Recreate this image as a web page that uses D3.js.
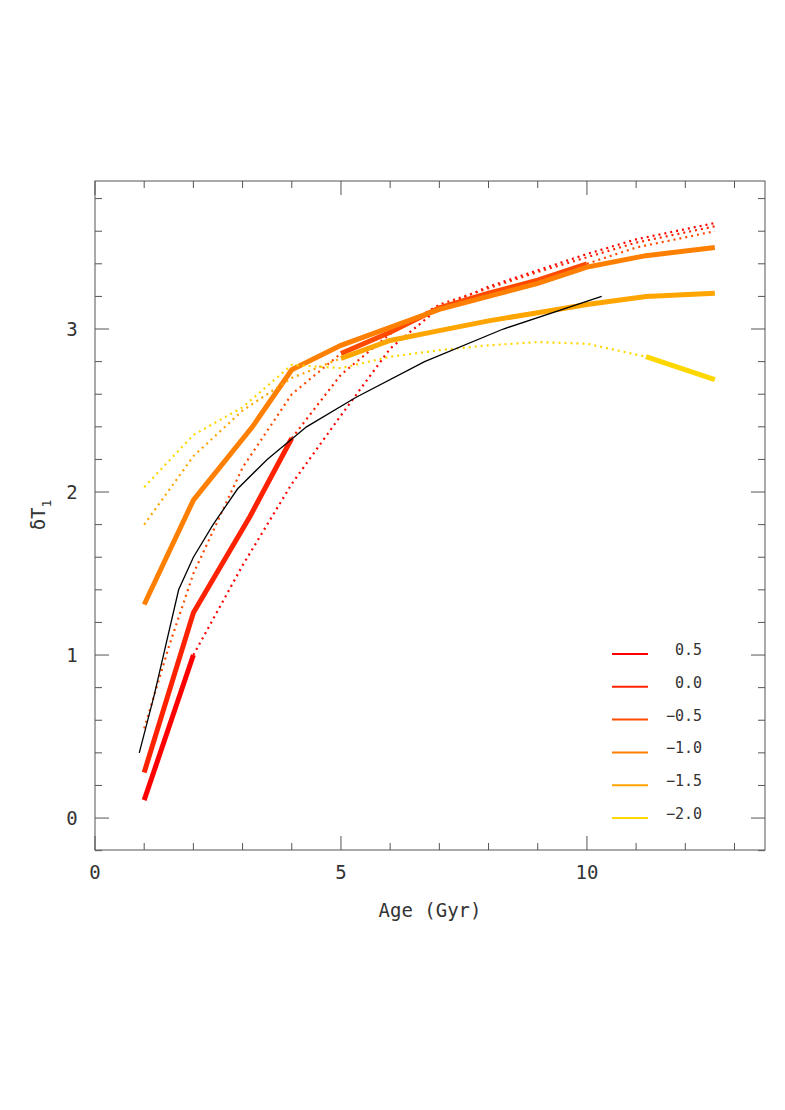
<!DOCTYPE html>
<html><head><meta charset="utf-8">
<script src="https://cdn.jsdelivr.net/npm/d3@7.9.0/dist/d3.min.js"></script>
<style>body{margin:0;background:#fff}text{font-family:"DejaVu Sans Mono",monospace;fill:#333}</style>
</head><body><svg id="c" width="785" height="1110"></svg>
<script>
const metals = ['0.5', '0.0', '\u22120.5', '\u22121.0', '\u22121.5', '\u22122.0'];
const colors = ['#ff0000', '#ff2200', '#ff4a00', '#ff7f00', '#ffa500', '#ffd700'];
// each segment: [seriesIndex, style, points]
const segments = [
  [0, 'solid', [[1, 0.11], [2, 1.0]]],
  [0, 'dot', [[2, 1.0], [3, 1.55], [4, 2.05], [5, 2.47], [6, 2.88], [7, 3.13], [8, 3.26], [9, 3.36], [10, 3.46], [11, 3.55], [12.6, 3.65]]],
  [1, 'solid', [[1, 0.28], [2, 1.26], [3.15, 1.85], [4, 2.33]]],
  [1, 'dot', [[4, 2.33], [5, 2.72], [6, 2.97], [7, 3.15], [8, 3.25], [9, 3.35], [10, 3.44], [11, 3.53], [12.6, 3.63]]],
  [2, 'dot', [[1, 0.55], [1.5, 1.05], [2, 1.5], [3, 2.15], [4, 2.6], [5, 2.85]]],
  [2, 'solid', [[5, 2.85], [6, 2.98], [7, 3.13], [8, 3.22], [9, 3.3], [10, 3.4]]],
  [2, 'dot', [[10, 3.4], [11, 3.5], [12.6, 3.6]]],
  [3, 'solid', [[1, 1.31], [2, 1.95], [3.2, 2.4], [4, 2.75], [5, 2.9], [6, 3.01], [7, 3.12], [8, 3.2], [9, 3.28], [10, 3.38], [11.2, 3.45], [12.6, 3.5]]],
  [4, 'dot', [[1, 1.8], [2, 2.22], [3, 2.5], [4, 2.7], [5, 2.82]]],
  [4, 'solid', [[5, 2.82], [6, 2.93], [7, 2.99], [8, 3.05], [9, 3.1], [10, 3.15], [11.2, 3.2], [12.6, 3.22]]],
  [5, 'dot', [[1, 2.03], [2, 2.35], [3, 2.52], [4, 2.78], [5, 2.76], [6, 2.83], [7, 2.87], [8, 2.9], [9, 2.92], [10, 2.91], [11.2, 2.83]]],
  [5, 'solid', [[11.2, 2.83], [12.6, 2.69]]]
];
const blackLine = [[0.9, 0.4], [1.2, 0.75], [1.7, 1.4], [2, 1.6], [2.4, 1.8], [2.9, 2.02], [3.5, 2.2], [4.3, 2.4], [5.3, 2.58], [6.7, 2.8], [8.3, 3.0], [10.3, 3.2]];

const svg = d3.select('#c');
const L = 95, R = 765, T = 181, B = 850;
const x = d3.scaleLinear().domain([0, 13.62]).range([L, R]);
const y = d3.scaleLinear().domain([-0.196, 3.908]).range([B, T]);

svg.append('rect').attr('x', L).attr('y', T).attr('width', R - L).attr('height', B - T)
  .attr('fill', 'none').attr('stroke', '#555');

const g = svg.append('g');
d3.range(0, 14).forEach(v => {
  const len = v % 5 === 0 ? 14 : 7;
  g.append('line').attr('x1', x(v)).attr('x2', x(v)).attr('y1', B).attr('y2', B - len).attr('stroke', '#555');
  g.append('line').attr('x1', x(v)).attr('x2', x(v)).attr('y1', T).attr('y2', T + len).attr('stroke', '#555');
});
d3.range(-1, 20).map(i => i * 0.2).forEach(v => {
  const major = Math.abs(v - Math.round(v)) < 1e-6;
  const len = major ? 14 : 7;
  g.append('line').attr('y1', y(v)).attr('y2', y(v)).attr('x1', L).attr('x2', L + len).attr('stroke', '#555');
  g.append('line').attr('y1', y(v)).attr('y2', y(v)).attr('x1', R).attr('x2', R - len).attr('stroke', '#555');
});
[0, 5, 10].forEach(v => svg.append('text').attr('x', x(v)).attr('y', B + 29).attr('text-anchor', 'middle').attr('font-size', 19).text(v));
[0, 1, 2, 3].forEach(v => svg.append('text').attr('x', L - 23).attr('y', y(v) + 7).attr('text-anchor', 'middle').attr('font-size', 19).text(v));
svg.append('text').attr('x', 430).attr('y', 917).attr('text-anchor', 'middle').attr('font-size', 19).text('Age (Gyr)');
const yl = svg.append('text').attr('transform', 'translate(45,515) rotate(-90)').attr('text-anchor', 'middle').attr('font-size', 19);
yl.append('tspan').text('\u03b4T');
yl.append('tspan').attr('font-size', 13).attr('dy', 6).text('1');

const line = d3.line().x(d => x(d[0])).y(d => y(d[1]));
segments.forEach(([i, style, pts]) => {
  svg.append('path').attr('d', line(pts)).attr('fill', 'none').attr('stroke', colors[i])
    .attr('stroke-width', style === 'solid' ? 5 : 2.2)
    .attr('stroke-dasharray', style === 'solid' ? null : '2,4');
});
svg.append('path').attr('d', line(blackLine)).attr('fill', 'none').attr('stroke', '#000').attr('stroke-width', 1.3);

metals.forEach((m, i) => {
  const yy = 654 + i * 32.8;
  svg.append('line').attr('x1', 612).attr('x2', 648).attr('y1', yy).attr('y2', yy).attr('stroke', colors[i]).attr('stroke-width', 2);
  svg.append('text').attr('x', 702).attr('y', yy + 1).attr('text-anchor', 'end').attr('font-size', 15).text(m);
});
</script></body></html>
